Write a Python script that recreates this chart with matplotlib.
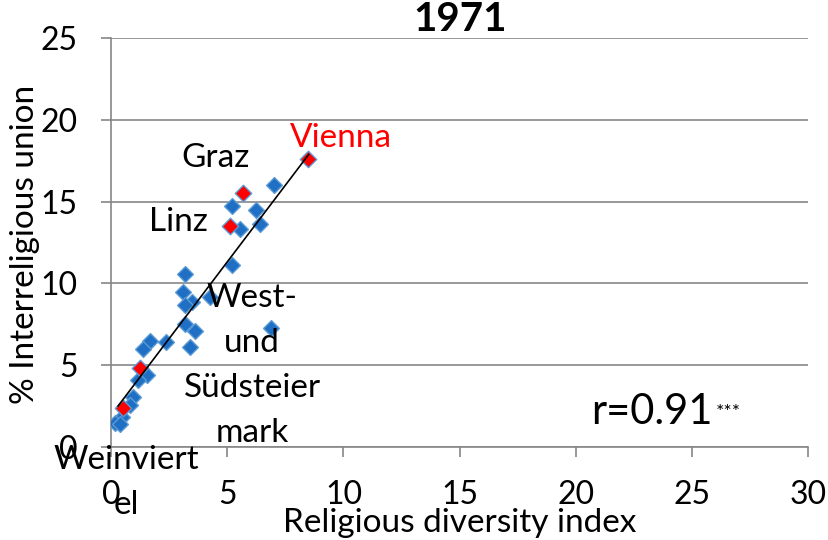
import numpy as np
import matplotlib
matplotlib.use('Agg')
import matplotlib.pyplot as plt

plt.rcParams['font.family'] = ['Lato', 'DejaVu Sans']

# district points (diversity index, % interreligious union)
blue_x = [7.03, 5.2, 6.25, 5.56, 6.42, 5.2, 3.19, 3.1, 3.49, 3.19, 4.27, 6.9,
          3.19, 3.62, 3.4, 1.68, 1.38, 2.37, 1.55, 1.16, 0.95, 0.82, 0.47, 0.17, 0.4]
blue_y = [16.0, 14.7, 14.5, 13.35, 13.6, 11.1, 10.6, 9.5, 8.85, 8.66, 9.15, 7.25,
          7.5, 7.1, 6.1, 6.5, 6.0, 6.45, 4.4, 4.1, 3.05, 2.6, 1.85, 1.45, 1.4]
# highlighted cities
red_names = ['Vienna', 'Graz', 'Linz', 'West-und Südsteiermark', 'Weinviertel']
red_x = [8.49, 5.69, 5.13, 1.25, 0.52]
red_y = [17.6, 15.5, 13.5, 4.85, 2.38]

all_x = np.array(blue_x + red_x)
all_y = np.array(blue_y + red_y)
slope, inter = np.polyfit(all_x, all_y, 1)

fig = plt.figure(figsize=(8.29, 5.4), dpi=100)
ax = fig.add_axes([0.134, 0.172, 0.841, 0.758])

ax.scatter(blue_x, blue_y, marker='D', s=65, color='#1f6fc4', edgecolors='#5b9bd5', linewidths=1, zorder=3)
ax.scatter(red_x, red_y, marker='D', s=70, color='#ff0000', edgecolors='#5b9bd5', linewidths=1, zorder=4)

xl = np.array([0.3, 8.5])
ax.plot(xl, slope * xl + inter, color='black', linewidth=1.2, zorder=5)

ax.set_xlim(0, 30)
ax.set_ylim(0, 25)
ax.set_xticks(range(0, 31, 5))
ax.set_yticks(range(0, 26, 5))
ax.yaxis.grid(True, color='#868686', linewidth=1.2)
ax.set_axisbelow(True)
for s in ['top', 'right']:
    ax.spines[s].set_visible(False)
for s in ['left', 'bottom']:
    ax.spines[s].set_color('#868686')
    ax.spines[s].set_linewidth(1.2)
ax.tick_params(axis='both', colors='#868686', length=7, width=1.2, labelsize=23, labelcolor='black')
ax.tick_params(axis='x', pad=17)
ax.tick_params(axis='y', pad=17)

ax.set_title('1971', fontsize=29, fontweight='bold', pad=1)
ax.set_xlabel('Religious diversity index', fontsize=24)
ax.set_ylabel('% Interreligious union', fontsize=24)
ax.xaxis.set_label_coords(0.5, -0.148)
ax.yaxis.set_label_coords(-0.102, 0.494)

fs = 24
ax.text(9.9, 18.85, 'Vienna', color='red', fontsize=fs, ha='center', va='center')
ax.text(4.48, 17.66, 'Graz', fontsize=fs, ha='center', va='center')
ax.text(2.88, 13.75, 'Linz', fontsize=fs, ha='center', va='center')
ax.text(6.07, 4.98, 'West-\nund\nSüdsteier\nmark', fontsize=fs, ha='center', va='center', linespacing=1.62)
ax.text(0.65, -2.17, 'Weinviert\nel', fontsize=fs, ha='center', va='center', linespacing=1.62)
ax.text(25.87, 2.14, 'r=0.91', fontsize=30, ha='right', va='center')
ax.text(26.0, 2.1, '***', fontsize=14, ha='left', va='center')

plt.savefig('out.png', dpi=100)
plt.close()
